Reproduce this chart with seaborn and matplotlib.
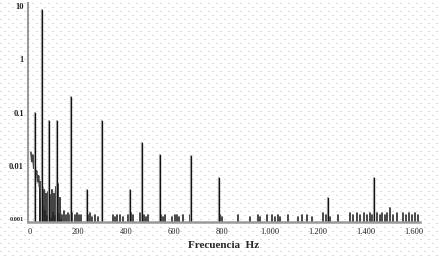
import numpy as np
import pandas as pd
import seaborn as sns
import matplotlib.pyplot as plt
from matplotlib.ticker import FixedLocator, NullLocator

# Main spectral peaks (Hz, amplitude)
peak_freq = [21, 50, 79, 112, 171, 237, 300, 417, 467, 542, 671, 787, 1242, 1433]
peak_amp = [0.1, 8.5, 0.07, 0.068, 0.2, 0.0035, 0.068, 0.0035, 0.027, 0.016, 0.015, 0.006, 0.0025, 0.006]

# Low frequency noise trace
noise_freq = [4, 8, 12, 16, 20, 24, 28, 32, 36, 40, 44, 48, 52, 56, 60, 64,
              68, 72, 76, 80, 84, 88, 92, 96, 100, 104, 108, 112, 116, 120, 124, 128]
noise_amp = [0.018, 0.012, 0.016, 0.009, 0.012, 0.007, 0.008, 0.005, 0.0065, 0.004,
             0.005, 0.0025, 0.004, 0.0018, 0.0035, 0.0015, 0.003, 0.0012, 0.0032, 0.0016,
             0.0028, 0.0011, 0.0035, 0.0014, 0.003, 0.0012, 0.004, 0.0015, 0.0045, 0.0013,
             0.0025, 0.001]

# Small spikes near the noise floor
floor_freq = [125, 133, 142, 150, 158, 167, 175, 188, 196, 204, 213, 242, 250, 258, 271, 283,
              346, 354, 362, 375, 387, 408, 421, 429, 458, 475, 483, 492, 546, 554, 562,
              592, 604, 613, 621, 638, 667, 792, 800, 867, 917, 950, 958, 988, 1008, 1021,
              1033, 1042, 1075, 1117, 1133, 1154, 1175, 1221, 1233, 1250, 1283, 1333, 1346,
              1363, 1375, 1392, 1404, 1417, 1425, 1446, 1458, 1467, 1479, 1488, 1500, 1513,
              1529, 1554, 1567, 1579, 1592, 1604, 1617]
floor_amp = [0.0013, 0.0012, 0.0014, 0.0012, 0.0013, 0.0012, 0.0013, 0.0012, 0.0013, 0.0012,
             0.0012, 0.0012, 0.0013, 0.0011, 0.0012, 0.0011, 0.0012, 0.0011, 0.0012, 0.0012,
             0.0011, 0.0012, 0.0013, 0.0012, 0.0013, 0.0012, 0.0011, 0.0012, 0.0012, 0.0011,
             0.0012, 0.0011, 0.0012, 0.0012, 0.0011, 0.0012, 0.0012, 0.0012, 0.0011, 0.0012,
             0.0011, 0.0012, 0.0011, 0.0012, 0.0012, 0.0011, 0.0012, 0.0011, 0.0012, 0.0011,
             0.0012, 0.0012, 0.0011, 0.0013, 0.0012, 0.0011, 0.0012, 0.0013, 0.0012, 0.0013,
             0.0012, 0.0013, 0.0012, 0.0013, 0.0012, 0.0013, 0.0012, 0.0013, 0.0012, 0.0013,
             0.0016, 0.0012, 0.0013, 0.0013, 0.0012, 0.0013, 0.0012, 0.0013, 0.0012]

x_ticks = [0, 200, 400, 600, 800, 1000, 1200, 1400, 1600]
x_labels = ['0', '200', '400', '600', '800', '1.000', '1.200', '1.400', '1.600']
y_ticks = [0.001, 0.01, 0.1, 1, 10]
y_labels = ['0.001', '0.01', '0.1', '1', '10']

BASE = 0.0005


def stems(freq, amp):
    rows = []
    for i, (f, a) in enumerate(zip(freq, amp)):
        rows.append((i, f, BASE))
        rows.append((i, f, a))
    return pd.DataFrame(rows, columns=['id', 'f', 'amp'])


sns.set_style('white')
plt.rcParams['font.family'] = ['Liberation Serif', 'DejaVu Serif']

fig = plt.figure(figsize=(4.39, 2.56), dpi=100)
fig.patch.set_facecolor('white')

# dotted paper background
bg = fig.add_axes([0, 0, 1, 1], zorder=0)
bg.set_xlim(0, 439)
bg.set_ylim(256, 0)
bg.axis('off')
for k, y in enumerate(range(2, 256, 4)):
    bg.hlines(y + 0.5, 0, 439, colors='#b8b8b8', lw=0.72,
              linestyles=[(4 * (k % 2), (1, 7))])

ax = fig.add_axes([28 / 439, 34 / 256, 392 / 439, 219 / 256], zorder=1)
ax.patch.set_alpha(0)

sns.lineplot(data=stems(floor_freq, floor_amp), x='f', y='amp', units='id',
             estimator=None, color='#2a2a2a', lw=1.2, ax=ax, legend=False)
sns.lineplot(data=stems(noise_freq[9:], noise_amp[9:]), x='f', y='amp', units='id',
             estimator=None, color='#222222', lw=1.2, ax=ax, legend=False)
sns.lineplot(x=noise_freq, y=noise_amp, color='#444444', lw=1.2, ax=ax,
             estimator=None, sort=False)
pk = stems(peak_freq, peak_amp)
sns.lineplot(data=pk, x='f', y='amp', units='id',
             estimator=None, color='#a8a8a8', lw=1.6, ax=ax, legend=False)
sns.lineplot(data=pk, x='f', y='amp', units='id',
             estimator=None, color='#111111', lw=0.9, ax=ax, legend=False)

ax.set_yscale('log')
ax.set_xlim(-8, 1625)
ax.set_ylim(0.00088, 11.4)
ax.xaxis.set_major_locator(FixedLocator(x_ticks))
ax.set_xticklabels(x_labels)
ax.yaxis.set_major_locator(FixedLocator(y_ticks))
ax.yaxis.set_minor_locator(NullLocator())
ax.set_yticklabels(y_labels)
ax.tick_params(axis='both', length=0, labelsize=6, colors='#222222')
ax.tick_params(axis='x', pad=4)
ax.tick_params(axis='y', pad=3)
for lab in ax.get_yticklabels():
    lab.set_fontweight('bold')
ax.get_yticklabels()[0].set_fontsize(4.5)

ax.set_xlabel('Frecuencia  Hz', fontsize=8, fontweight='bold', labelpad=4)
ax.set_ylabel('')

for side in ['top', 'right']:
    ax.spines[side].set_visible(False)
ax.spines['left'].set_color('#9a9a9a')
ax.spines['left'].set_linewidth(1.5)
ax.spines['bottom'].set_color('#9a9a9a')
ax.spines['bottom'].set_linewidth(1.8)

fig.savefig('out.png', dpi=100)
